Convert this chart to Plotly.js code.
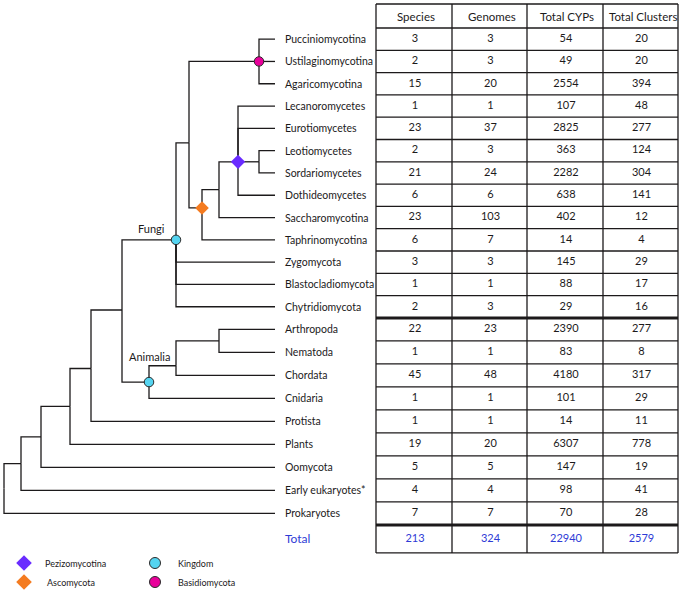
<!DOCTYPE html>
<html><head><meta charset="utf-8">
<script src="https://cdn.plot.ly/plotly-3.0.1.min.js"></script>
<style>html,body{margin:0;padding:0;background:#fff}</style>
</head><body><div id="chart" style="width:685px;height:595px"></div>
<script>
// ---------------- data ----------------
const taxa = ['Pucciniomycotina','Ustilaginomycotina','Agaricomycotina','Lecanoromycetes','Eurotiomycetes',
  'Leotiomycetes','Sordariomycetes','Dothideomycetes','Saccharomycotina','Taphrinomycotina','Zygomycota',
  'Blastocladiomycota','Chytridiomycota','Arthropoda','Nematoda','Chordata','Cnidaria','Protista','Plants',
  'Oomycota','Early eukaryotes*','Prokaryotes'];
const species       = [3,2,15,1,23,2,21,6,23,6,3,1,2,22,1,45,1,1,19,5,4,7];
const genomes       = [3,3,20,1,37,3,24,6,103,7,3,1,3,23,1,48,1,1,20,5,4,7];
const totalCYPs     = [54,49,2554,107,2825,363,2282,638,402,14,145,88,29,2390,83,4180,101,14,6307,147,98,70];
const totalClusters = [20,20,394,48,277,124,304,141,12,4,29,17,16,277,8,317,29,11,778,19,41,28];
const totals = [213,324,22940,2579];
const headers = ['Species','Genomes','Total CYPs','Total Clusters'];
const totalLabel = 'Total';
const legendItems = [
  {name:'Pezizomycotina', key:'Pezizomycotina'},
  {name:'Ascomycota', key:'Ascomycota'},
  {name:'Kingdom', key:'Kingdom'},
  {name:'Basidiomycota', key:'Basidiomycota'}
];
// tree topology: leaves = row numbers in taxa (1-based); internal nodes carry a depth,
// and a row position where the picture shows the node off-centre
const tree = {d:4, c:[
  {d:21, c:[
    {d:41, c:[
      {d:70, c:[
        {d:91, y:15.7, c:[
          {d:122, c:[
            {d:176, y:10, mark:'Kingdom', label:'Fungi', c:[
              {d:189, y:5.65, c:[
                {d:259, y:2, mark:'Basidiomycota', c:[1,2,3]},
                {d:202, y:8.57, mark:'Ascomycota', c:[
                  {d:219, c:[
                    {d:238, y:6.5, mark:'Pezizomycotina', c:[4,5,{d:259, c:[6,7]},8]},
                    9]},
                  10]}
              ]},
              11,12,13]},
            {d:149, mark:'Kingdom', label:'Animalia', c:[
              {d:176, y:15.58, c:[{d:219, c:[14,15]},16]},
              17]}
          ]},
          18]},
        19]},
      20]},
    21]},
  22]};

// ---------------- styles / geometry ----------------
const INK = '#1c1a1b', BLUE = '#2e3bd6';
const FONT = 'Lato, "Liberation Sans", sans-serif';
const markStyle = {
  Pezizomycotina:{symbol:'diamond', color:'#6a2cff', size:11, line:{width:0}},
  Ascomycota:{symbol:'diamond', color:'#f47b20', size:10.5, line:{width:0}},
  Kingdom:{symbol:'circle', color:'#55d4f0', size:9.5, line:{width:1, color:'#2a2a2a'}},
  Basidiomycota:{symbol:'circle', color:'#e8009a', size:9.5, line:{width:1, color:'#2a2a2a'}}
};
const G = {top:4, headH:24, h1:22.3, n1:13, h2:23, totH:28};
const colEdges = [376,452,527,603,678];
const leafX = 275, labelX = 283;

function rowPx(r){
  const base = G.top + G.headH;
  if (r <= G.n1 + 0.5) return base + G.h1*(r-0.5);
  return base + G.h1*G.n1 + G.h2*(r - G.n1 - 0.5);
}
const nRows = taxa.length;
const headY = G.top + G.headH/2;
const sepY = rowPx(G.n1 + 0.5);
const lastY = rowPx(nRows + 0.5);
const totY = lastY + G.totH/2;
const bottomY = lastY + G.totH;

// ---------------- tree layout ----------------
const lx = [], ly = [];
const marks = {};
const labels = [];
function layout(node){
  if (typeof node === 'number') return {x:leafX, y:node};
  const kids = node.c.map(layout);
  const y = (node.y !== undefined) ? node.y : (kids[0].y + kids[kids.length-1].y)/2;
  kids.forEach(k => {
    lx.push(node.d, node.d, k.x, null);
    ly.push(rowPx(y), rowPx(k.y), rowPx(k.y), null);
  });
  if (node.mark){ (marks[node.mark] = marks[node.mark] || {x:[],y:[]}); marks[node.mark].x.push(node.d); marks[node.mark].y.push(rowPx(y)); }
  if (node.label) labels.push({text:node.label, x:node.d, y:rowPx(y)});
  return {x:node.d, y:y};
}
layout(tree);

const traces = [];
traces.push({type:'scatter', mode:'lines', x:lx, y:ly, hoverinfo:'skip',
  line:{color:INK, width:1.3}, showlegend:false});
Object.keys(marks).forEach(k => {
  const s = markStyle[k];
  traces.push({type:'scatter', mode:'markers', x:marks[k].x, y:marks[k].y, hoverinfo:'skip', showlegend:false,
    marker:{symbol:s.symbol, color:s.color, size:s.size, line:s.line}});
});

// table values
const cols = [species, genomes, totalCYPs, totalClusters];
const rowYs = taxa.map((t,i) => rowPx(i+1));
cols.forEach((vals, ci) => {
  const cx = (colEdges[ci] + colEdges[ci+1])/2 + 1;
  traces.push({type:'scatter', mode:'text', x:vals.map(() => cx), y:rowYs, text:vals.map(String),
    textposition:'middle center', textfont:{family:FONT, size:11, color:INK}, hoverinfo:'skip', showlegend:false});
});
traces.push({type:'scatter', mode:'text',
  x:totals.map((v,ci) => (colEdges[ci]+colEdges[ci+1])/2 + 1), y:totals.map(() => totY),
  text:totals.map(String), textposition:'middle center', textfont:{family:FONT, size:11, color:BLUE},
  hoverinfo:'skip', showlegend:false});

// legend (manual, two columns)
const legPos = [{mx:24,tx:43,y:563},{mx:24,tx:45,y:582},{mx:155,tx:176,y:563},{mx:155,tx:176,y:582}];
legendItems.forEach((it, i) => {
  const s = markStyle[it.key], p = legPos[i];
  traces.push({type:'scatter', mode:'markers', x:[p.mx], y:[p.y], hoverinfo:'skip', showlegend:false,
    marker:{symbol:s.symbol, color:s.color, size:s.symbol==='circle' ? 11 : 12, line:s.line}});
});

// annotations
const ann = [];
taxa.forEach((t,i) => ann.push({x:labelX, y:rowYs[i], text:t, xanchor:'left', yanchor:'middle', showarrow:false,
  font:{family:FONT, size:10.5, color:INK}}));
ann.push({x:labelX, y:totY, text:totalLabel, xanchor:'left', yanchor:'middle', showarrow:false,
  font:{family:FONT, size:12, color:BLUE}});
headers.forEach((h,ci) => ann.push({x:(colEdges[ci]+colEdges[ci+1])/2 + 2, y:headY, text:h, xanchor:'center', yanchor:'middle',
  showarrow:false, font:{family:FONT, size:11.5, color:INK}}));
labels.forEach(l => {
  if (l.text === 'Fungi') ann.push({x:l.x-9, y:l.y-11, text:l.text, xanchor:'right', yanchor:'middle', showarrow:false, font:{family:FONT, size:11, color:INK}});
  else ann.push({x:l.x, y:l.y-26, text:l.text, xanchor:'center', yanchor:'middle', showarrow:false, font:{family:FONT, size:11, color:INK}});
});
legendItems.forEach((it,i) => ann.push({x:legPos[i].tx, y:legPos[i].y, text:it.name, xanchor:'left', yanchor:'middle',
  showarrow:false, font:{family:FONT, size:9, color:INK}}));

// table grid
const shapes = [];
const hline = (y,w) => shapes.push({type:'line', xref:'x', yref:'y', x0:colEdges[0], x1:colEdges[colEdges.length-1], y0:y, y1:y, line:{color:INK, width:w}});
hline(G.top, 1.3);
hline(G.top + G.headH, 1.3);
for (let r=1; r<nRows; r++){ if (r !== G.n1) hline(rowPx(r+0.5), 1.3); }
hline(sepY, 3);
hline(lastY, 3);
hline(bottomY, 1.3);
colEdges.forEach(x => shapes.push({type:'line', xref:'x', yref:'y', x0:x, x1:x, y0:G.top, y1:bottomY, line:{color:INK, width:1.3}}));

Plotly.newPlot('chart', traces, {
  width:685, height:595, margin:{l:0,r:0,t:0,b:0},
  paper_bgcolor:'#fff', plot_bgcolor:'#fff', showlegend:false,
  xaxis:{range:[0,685], visible:false, fixedrange:true},
  yaxis:{range:[595,0], visible:false, fixedrange:true},
  annotations:ann, shapes:shapes
}, {staticPlot:true, displayModeBar:false});
</script></body></html>
